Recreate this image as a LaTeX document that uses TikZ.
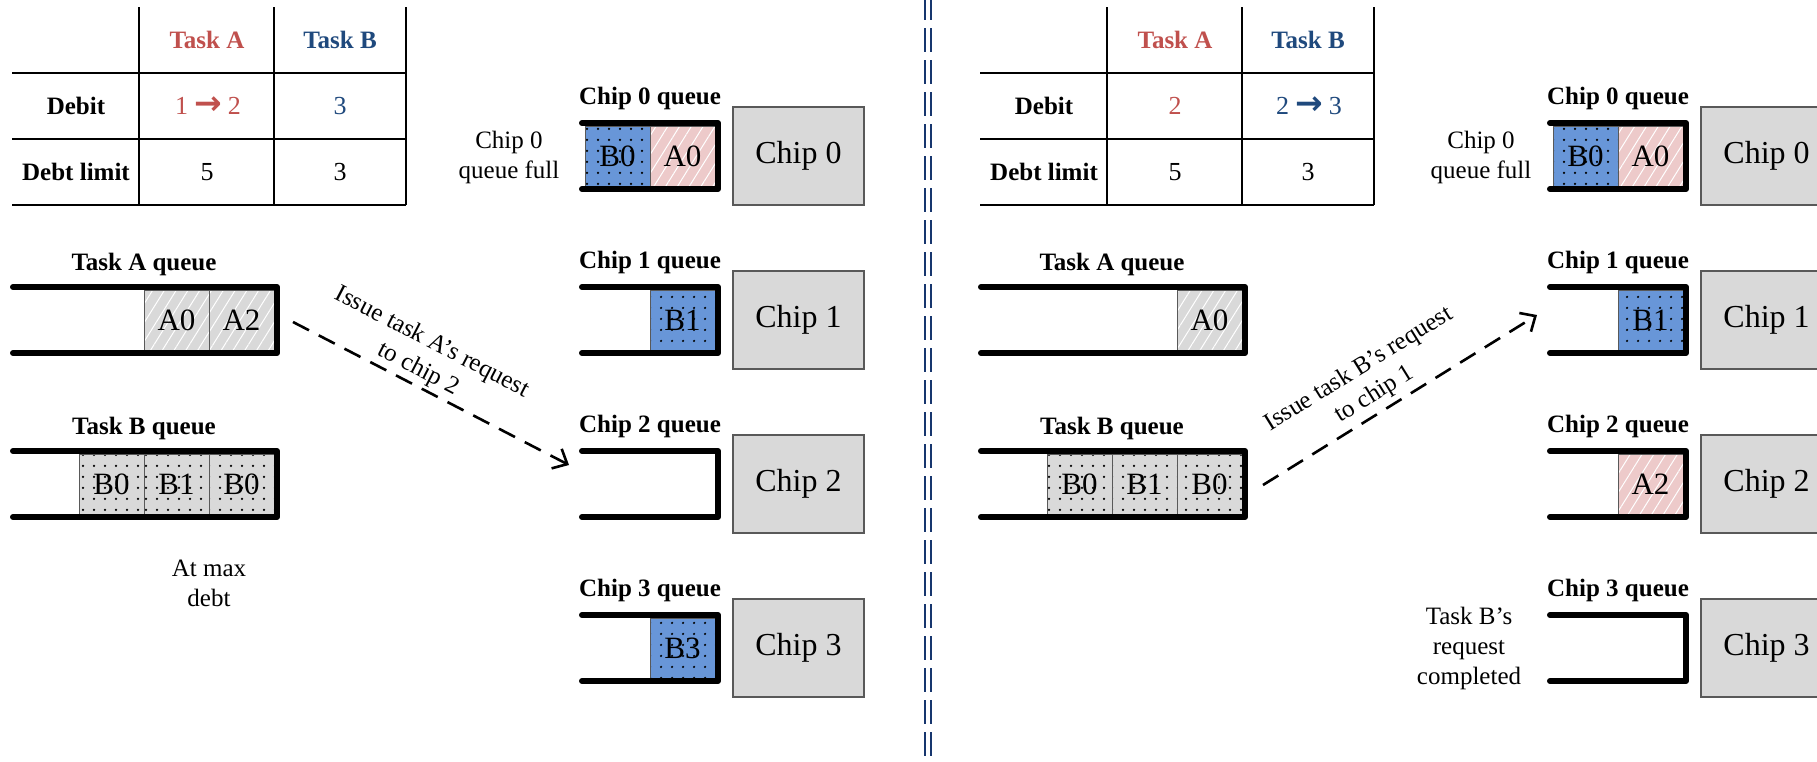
\documentclass[tikz,border=0pt]{standalone}
\usepackage{fontspec}
\setmainfont{Liberation Serif}
\newfontfamily\arrowfont{DejaVu Sans}
\usetikzlibrary{arrows.meta,patterns.meta}

\definecolor{taskred}{HTML}{C0504D}
\definecolor{taskblue}{HTML}{1F497D}
\definecolor{divnavy}{HTML}{17366E}
\definecolor{cellgray}{HTML}{D9D9D9}
\definecolor{cellblue}{HTML}{6896D8}
\definecolor{cellpink}{HTML}{EDCACA}
\definecolor{edgegray}{HTML}{595959}

% debit change arrow between two numbers
\newcommand{\rarr}{\hspace{6pt}{\arrowfont\bfseries\fontsize{33}{30}\selectfont →}\hspace{6pt}}

\tikzset{
  wall/.style={line width=6pt, line cap=round, line join=round},
  cellbase/.style={minimum width=65pt, minimum height=60pt, inner sep=0pt,
    draw=edgegray, line width=1pt, font=\fontsize{31}{31}\selectfont},
  hatchcell/.style={cellbase, preaction={fill=#1},
    pattern={Lines[angle=58,distance=10pt,line width=1pt]}, pattern color=white},
  dotcell/.style={cellbase, preaction={fill=#1},
    pattern={Dots[distance=10.5pt,radius=1.3pt]}, pattern color=black},
  chipbox/.style={draw=edgegray, line width=1.5pt, fill=cellgray,
    minimum width=131pt, minimum height=98pt, inner sep=0pt,
    font=\fontsize{32}{32}\selectfont},
  qlabel/.style={font=\fontsize{25}{31}\selectfont\bfseries, inner sep=0pt},
  note/.style={font=\fontsize{25}{30}\selectfont, align=center, inner sep=0pt},
  tabtext/.style={font=\fontsize{26}{30}\selectfont, inner sep=0pt},
  tabhead/.style={font=\fontsize{25}{30}\selectfont\bfseries, inner sep=0pt},
  rule/.style={line width=2pt},
  issue/.style={line width=2.6pt, dash pattern=on 18pt off 11pt,
    -{Straight Barb[length=12pt,width=22pt]}},
  divider/.style={draw=divnavy, line width=2.6pt, dash pattern=on 24pt off 8pt},
}

\begin{document}
\begin{tikzpicture}[x=1pt,y=-1pt]
\clip (0,0) rectangle (1817,761);
\fill[white] (0,0) rectangle (1817,761);

% ---------------- first state ----------------
% debit table
\node[tabhead, text=taskred]  (ta-h) at (207,40) {Task A};
\node[tabhead, text=taskblue] (tb-h) at (340,40) {Task B};
\node[tabhead] (debit) at (76,106) {Debit};
\node[tabhead] (limit) at (76,172) {Debt limit};
\node[tabtext, text=taskred]  (ta-d) at (208,106) {1\rarr 2};
\node[tabtext, text=taskblue] (tb-d) at (340,106) {3};
\node[tabtext] (ta-l) at (207,172) {5};
\node[tabtext] (tb-l) at (340,172) {3};
\draw[rule] (12,73) -- (406,73) (12,139) -- (406,139) (12,205) -- (406,205);
\draw[rule] (139,7) -- (139,205) (274,7) -- (274,205) (406,7) -- (406,205);

% task queues
\node[qlabel] (qa-lbl) at (144,264) {Task A queue};
\node[hatchcell=cellgray] (qa3) at (176.5,320) {A0};
\node[hatchcell=cellgray] (qa4) at (241.5,320) {A2};
\draw[wall] (13,287) -- (277,287) -- (277,353) -- (13,353);

\node[qlabel] (qb-lbl) at (144,428) {Task B queue};
\node[dotcell=cellgray] (qb2) at (111.5,484) {B0};
\node[dotcell=cellgray] (qb3) at (176.5,484) {B1};
\node[dotcell=cellgray] (qb4) at (241.5,484) {B0};
\draw[wall] (13,451) -- (277,451) -- (277,517) -- (13,517);

\node[note] (maxdebt) at (209,583) {At max\\debt};

% chip queues and chips
\node[qlabel] (c0-lbl) at (650,98) {Chip 0 queue};
\node[dotcell=cellblue]   (c0a) at (617.5,156) {B0};
\node[hatchcell=cellpink] (c0b) at (682.5,156) {A0};
\draw[wall] (582,123) -- (718,123) -- (718,189) -- (582,189);
\node[chipbox] (chip0) at (798.5,156) {Chip 0};
\node[note] (full) at (509,157) {Chip 0\\queue full};

\node[qlabel] (c1-lbl) at (650,262) {Chip 1 queue};
\node[dotcell=cellblue] (c1b) at (682.5,320) {B1};
\draw[wall] (582,287) -- (718,287) -- (718,353) -- (582,353);
\node[chipbox] (chip1) at (798.5,320) {Chip 1};

\node[qlabel] (c2-lbl) at (650,426) {Chip 2 queue};
\draw[wall] (582,451) -- (718,451) -- (718,517) -- (582,517);
\node[chipbox] (chip2) at (798.5,484) {Chip 2};

\node[qlabel] (c3-lbl) at (650,590) {Chip 3 queue};
\node[dotcell=cellblue] (c3b) at (682.5,648) {B3};
\draw[wall] (582,615) -- (718,615) -- (718,681) -- (582,681);
\node[chipbox] (chip3) at (798.5,648) {Chip 3};

% issue task A's request
\coordinate (qa-out) at (293,322);
\coordinate (c2-in) at (569,465);
\draw[issue] (qa-out) -- (c2-in);
\node[note, rotate=-27.4] (issue-a) at (425,356) {Issue task A’s request\\to chip 2};

% ---------------- divider ----------------
\draw[divider] (925,-4) -- (925,765);
\draw[divider] (931,-4) -- (931,765);

% ---------------- second state ----------------
\begin{scope}[xshift=968pt]
\node[tabhead, text=taskred]  (r-ta-h) at (207,40) {Task A};
\node[tabhead, text=taskblue] (r-tb-h) at (340,40) {Task B};
\node[tabhead] (r-debit) at (76,106) {Debit};
\node[tabhead] (r-limit) at (76,172) {Debt limit};
\node[tabtext, text=taskred]  (r-ta-d) at (207,106) {2};
\node[tabtext, text=taskblue] (r-tb-d) at (341,106) {2\rarr 3};
\node[tabtext] (r-ta-l) at (207,172) {5};
\node[tabtext] (r-tb-l) at (340,172) {3};
\draw[rule] (12,73) -- (406,73) (12,139) -- (406,139) (12,205) -- (406,205);
\draw[rule] (139,7) -- (139,205) (274,7) -- (274,205) (406,7) -- (406,205);

\node[qlabel] (r-qa-lbl) at (144,264) {Task A queue};
\node[hatchcell=cellgray] (r-qa4) at (241.5,320) {A0};
\draw[wall] (13,287) -- (277,287) -- (277,353) -- (13,353);

\node[qlabel] (r-qb-lbl) at (144,428) {Task B queue};
\node[dotcell=cellgray] (r-qb2) at (111.5,484) {B0};
\node[dotcell=cellgray] (r-qb3) at (176.5,484) {B1};
\node[dotcell=cellgray] (r-qb4) at (241.5,484) {B0};
\draw[wall] (13,451) -- (277,451) -- (277,517) -- (13,517);

\node[qlabel] (r-c0-lbl) at (650,98) {Chip 0 queue};
\node[dotcell=cellblue]   (r-c0a) at (617.5,156) {B0};
\node[hatchcell=cellpink] (r-c0b) at (682.5,156) {A0};
\draw[wall] (582,123) -- (718,123) -- (718,189) -- (582,189);
\node[chipbox] (r-chip0) at (798.5,156) {Chip 0};
\node[note] (r-full) at (513,157) {Chip 0\\queue full};

\node[qlabel] (r-c1-lbl) at (650,262) {Chip 1 queue};
\node[dotcell=cellblue] (r-c1b) at (682.5,320) {B1};
\draw[wall] (582,287) -- (718,287) -- (718,353) -- (582,353);
\node[chipbox] (r-chip1) at (798.5,320) {Chip 1};

\node[qlabel] (r-c2-lbl) at (650,426) {Chip 2 queue};
\node[hatchcell=cellpink] (r-c2b) at (682.5,484) {A2};
\draw[wall] (582,451) -- (718,451) -- (718,517) -- (582,517);
\node[chipbox] (r-chip2) at (798.5,484) {Chip 2};

\node[qlabel] (r-c3-lbl) at (650,590) {Chip 3 queue};
\draw[wall] (582,615) -- (718,615) -- (718,681) -- (582,681);
\node[chipbox] (r-chip3) at (798.5,648) {Chip 3};
\node[note] (r-done) at (501,648) {Task B’s\\request\\completed};

% issue task B's request
\coordinate (r-qb-out) at (295,485);
\coordinate (r-c1-in) at (569,315);
\draw[issue] (r-qb-out) -- (r-c1-in);
\node[note, rotate=31.8] (issue-b) at (399,382) {Issue task B’s request\\to chip 1};
\end{scope}
\end{tikzpicture}
\end{document}
